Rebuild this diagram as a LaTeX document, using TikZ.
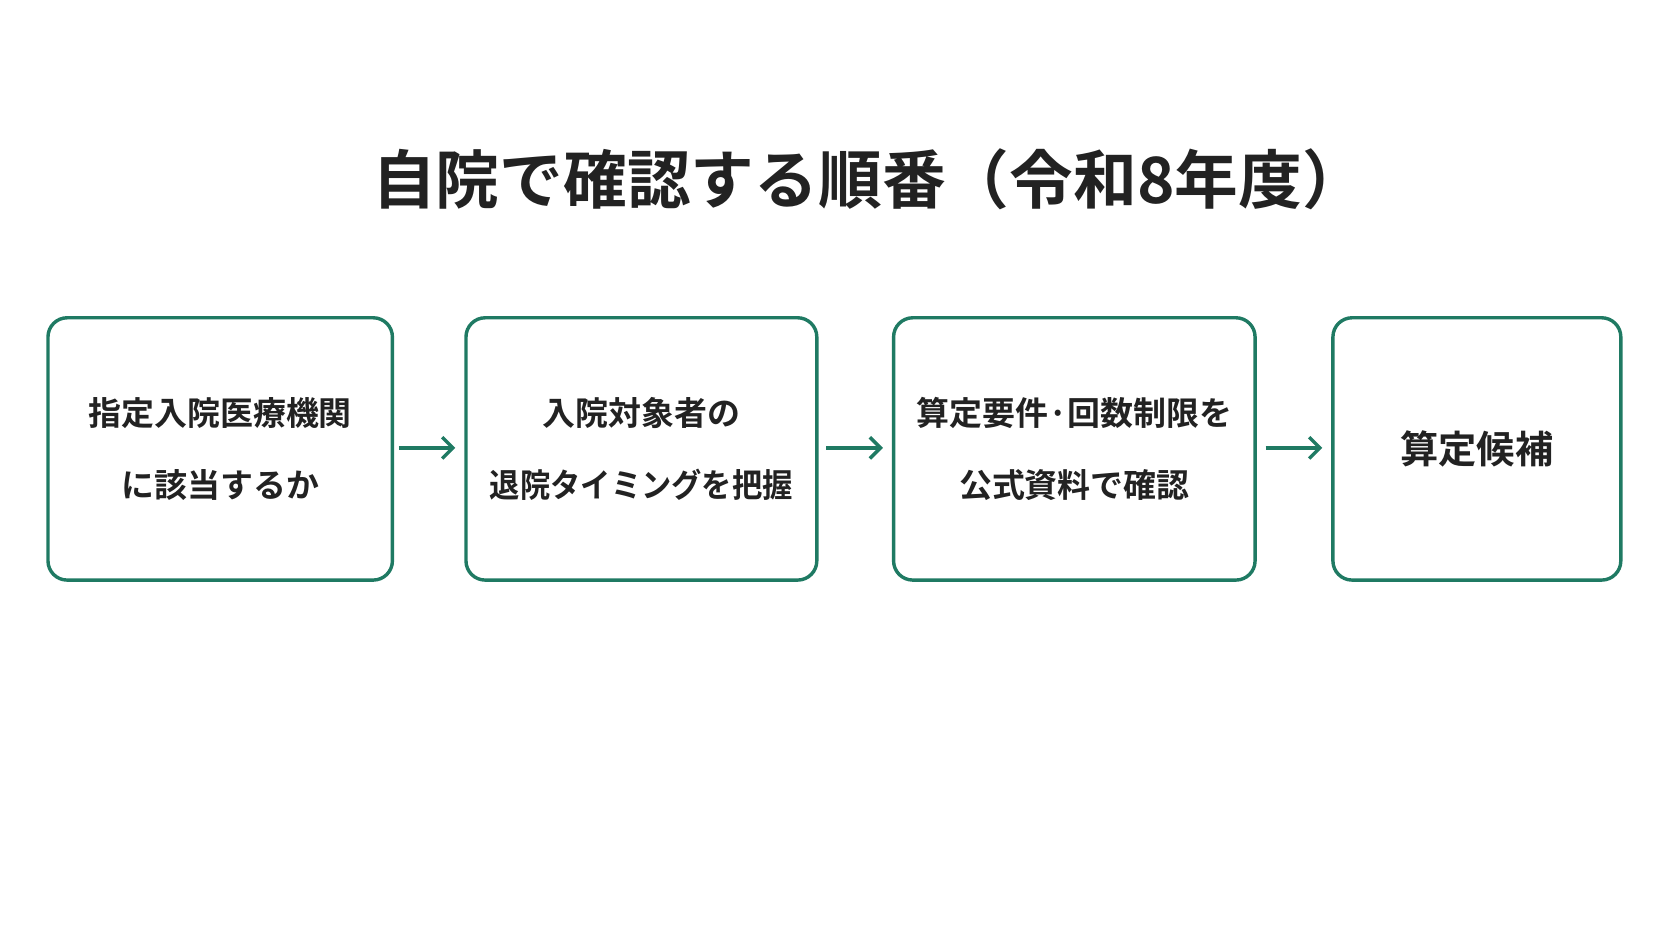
\documentclass[tikz,border=0pt]{standalone}
\usepackage{fontspec}
\setmainfont{Noto Sans CJK JP}[BoldFont={* Bold}]
\usetikzlibrary{arrows.meta}
\definecolor{grn}{HTML}{1F7A63}
\definecolor{txt}{HTML}{222222}
\begin{document}
\begin{tikzpicture}[x=1bp,y=-1bp,
  box/.style={draw=grn,line width=3.2bp,rounded corners=18bp,inner sep=0pt},
  lbl/.style={font=\fontsize{31}{68}\selectfont\bfseries,text=txt,align=center},
  arr/.style={draw=grn,line width=3.2bp,-{Straight Barb[length=10bp,width=20bp,line width=3.2bp]}}]
\useasboundingbox (0,0) rectangle (1568,882);
\node[font=\fontsize{60}{66}\selectfont\bfseries,text=txt] (title) at (815,168) {自院で確認する順番（令和8年度）};
\draw[box] (45,298) rectangle (368,544); \coordinate (b1) at (206.5,421);
\draw[box] (437,298) rectangle (766,544); \coordinate (b2) at (601.5,421);
\draw[box] (838,298) rectangle (1177,544); \coordinate (b3) at (1007.5,421);
\draw[box] (1250,298) rectangle (1520,544); \coordinate (b4) at (1385,421);
\node[lbl] (t1) at (b1) {指定入院医療機関\\に該当するか};
\node[lbl] (t2) at (b2) {入院対象者の\\\scalebox{0.92}[1]{退院タイミングを把握}};
\node[lbl] (t3) at (b3) {算定要件·回数制限を\\公式資料で確認};
\node[lbl,font=\fontsize{36}{40}\selectfont\bfseries] (t4) at (b4) {算定候補};
\coordinate (a1s) at (374,420); \coordinate (a1e) at (427,420);
\coordinate (a2s) at (775,420); \coordinate (a2e) at (828,420);
\coordinate (a3s) at (1187,420); \coordinate (a3e) at (1240,420);
\draw[arr] (a1s) -- (a1e);
\draw[arr] (a2s) -- (a2e);
\draw[arr] (a3s) -- (a3e);
\end{tikzpicture}
\end{document}
